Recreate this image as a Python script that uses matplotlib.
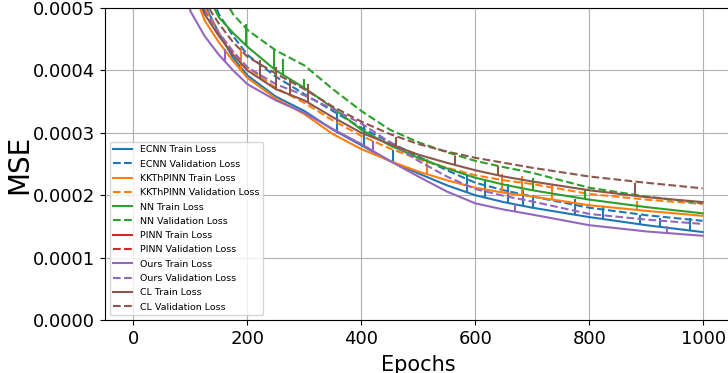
import numpy as np
import matplotlib
matplotlib.use("Agg")
import matplotlib.pyplot as plt

epochs = [60, 100, 125, 150, 175, 200, 250, 300, 350, 400, 450, 500, 550, 600, 650, 700, 800, 900, 999]

ecnn_train = [8.0, 5.9, 5.05, 4.6, 4.2, 3.92, 3.58, 3.35, 3.05, 2.80, 2.55, 2.35, 2.16, 2.0, 1.89, 1.80, 1.65, 1.52, 1.41]
ecnn_val = [9.0, 6.3, 5.45, 4.9, 4.55, 4.25, 3.90, 3.62, 3.35, 3.08, 2.85, 2.62, 2.40, 2.20, 2.08, 1.98, 1.80, 1.68, 1.59]
kkt_train = [7.5, 5.4, 4.8, 4.45, 4.15, 3.88, 3.55, 3.30, 2.98, 2.74, 2.55, 2.38, 2.24, 2.12, 2.04, 1.98, 1.84, 1.75, 1.67]
kkt_val = [8.0, 5.7, 5.0, 4.6, 4.3, 4.05, 3.72, 3.48, 3.20, 2.95, 2.75, 2.58, 2.44, 2.32, 2.24, 2.18, 2.02, 1.93, 1.86]
nn_train = [9.0, 6.2, 5.3, 4.85, 4.6, 4.38, 4.0, 3.72, 3.40, 3.05, 2.80, 2.60, 2.43, 2.28, 2.17, 2.08, 1.93, 1.81, 1.71]
nn_val = [10.0, 7.0, 5.9, 5.3, 4.9, 4.65, 4.32, 4.08, 3.70, 3.35, 3.05, 2.85, 2.69, 2.55, 2.45, 2.36, 2.12, 1.98, 1.87]
pinn_train = [12.0, 10.0, 9.4, 8.9, 8.5, 8.2, 7.7, 7.3, 7.0, 6.7, 6.5, 6.3, 6.15, 6.0, 5.9, 5.8, 5.6, 5.45, 5.3]
pinn_val = [12.4, 10.3, 9.7, 9.2, 8.8, 8.5, 8.0, 7.6, 7.3, 7.0, 6.8, 6.6, 6.45, 6.3, 6.2, 6.1, 5.9, 5.75, 5.6]
ours_train = [6.8, 4.95, 4.55, 4.25, 4.0, 3.78, 3.52, 3.32, 3.06, 2.82, 2.55, 2.30, 2.06, 1.87, 1.77, 1.69, 1.52, 1.42, 1.35]
ours_val = [7.5, 5.5, 4.95, 4.6, 4.3, 4.05, 3.78, 3.60, 3.38, 3.15, 2.85, 2.55, 2.30, 2.10, 1.99, 1.90, 1.70, 1.61, 1.54]
cl_train = [7.5, 5.5, 4.9, 4.55, 4.25, 4.0, 3.70, 3.52, 3.25, 3.0, 2.82, 2.65, 2.52, 2.40, 2.30, 2.22, 2.08, 1.97, 1.89]
cl_val = [8.0, 5.8, 5.1, 4.75, 4.45, 4.22, 3.95, 3.70, 3.42, 3.18, 2.98, 2.82, 2.70, 2.60, 2.52, 2.44, 2.30, 2.20, 2.11]

# spikes on the train curves: (epoch, height above curve)
ecnn_spikes = [(357, 0.3), (405, 0.35), (455, 0.2), (586, 0.3), (617, 0.3), (658, 0.3), (684, 0.25),
               (702, 0.2), (775, 0.25), (825, 0.2), (890, 0.15), (925, 0.15), (977, 0.2)]
kkt_spikes = [(188, 0.35), (516, 0.25), (647, 0.3), (682, 0.3), (735, 0.25), (884, 0.15)]
nn_spikes = [(198, 0.35), (246, 0.3), (263, 0.25), (300, 0.15), (702, 0.2), (793, 0.15)]
pinn_spikes = []
ours_spikes = [(160, 0.2), (420, 0.15), (670, 0.12), (937, 0.12)]
cl_spikes = [(223, 0.3), (250, 0.35), (275, 0.25), (307, 0.3), (460, 0.15), (565, 0.15), (640, 0.15), (880, 0.2)]

models = ["ECNN", "KKThPINN", "NN", "PINN", "Ours", "CL"]
colors = ["tab:blue", "tab:orange", "tab:green", "tab:red", "tab:purple", "tab:brown"]
train = [ecnn_train, kkt_train, nn_train, pinn_train, ours_train, cl_train]
val = [ecnn_val, kkt_val, nn_val, pinn_val, ours_val, cl_val]
spikes = [ecnn_spikes, kkt_spikes, nn_spikes, pinn_spikes, ours_spikes, cl_spikes]

fig = plt.figure(figsize=(7.28, 3.73), dpi=100)
ax = fig.add_axes([0.1442, 0.142, 0.86, 0.8365])

x = np.array(epochs)
for name, c, tr, va, sp in zip(models, colors, train, val, spikes):
    tr = np.array(tr) * 1e-4
    va = np.array(va) * 1e-4
    ax.plot(x, tr, color=c, label=f"{name} Train Loss")
    ax.plot(x, va, color=c, linestyle="--", label=f"{name} Validation Loss")
    if sp:
        se = np.array([s[0] for s in sp])
        sh = np.array([s[1] for s in sp]) * 1e-4
        base = np.interp(se, x, tr)
        ax.vlines(se, base, base + sh, color=c, linewidth=1.5)

ax.set_xlim(-49.95, 1048.95)
ax.set_ylim(0, 0.0005)
ax.set_yticks([0, 0.0001, 0.0002, 0.0003, 0.0004, 0.0005])
ax.set_yticklabels(["0.0000", "0.0001", "0.0002", "0.0003", "0.0004", "0.0005"])
ax.tick_params(labelsize=13)
ax.set_xlabel("Epochs", fontsize=15, labelpad=5)
ax.set_ylabel("MSE", fontsize=20, labelpad=0)
ax.grid(True)
ax.legend(loc="lower left", fontsize=6.8, labelspacing=0.56)

fig.savefig("out.png", dpi=100)
